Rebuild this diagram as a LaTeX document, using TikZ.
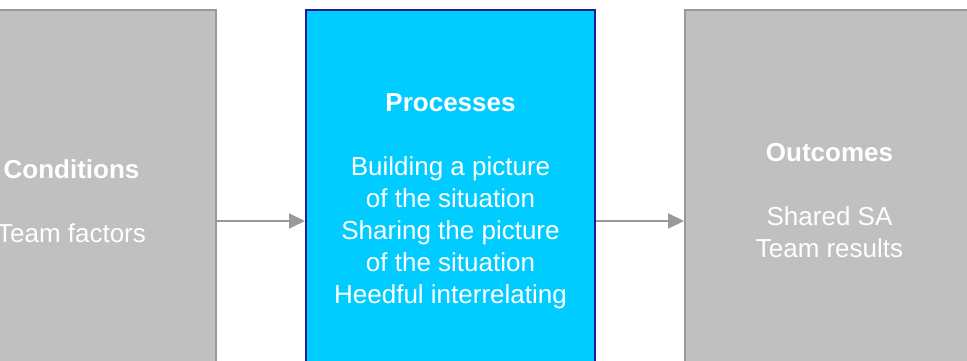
\documentclass[tikz,border=0pt]{standalone}
\usepackage{fontspec}
\setmainfont{Liberation Sans}
\usetikzlibrary{positioning, calc, arrows.meta}
\definecolor{boxgray}{HTML}{C0C0C0}
\definecolor{edgegray}{HTML}{999999}
\definecolor{procblue}{HTML}{00CCFF}
\definecolor{procedge}{HTML}{1F1A99}

\begin{document}
\begin{tikzpicture}[x=1pt, y=-1pt,
	                    stage/.style={draw=edgegray,
	                                  fill=boxgray,
	                                  line width=2pt,
	                                  minimum width=289pt,
	                                  minimum height=382pt,
	                                  inner sep=0pt,
	                                  align=center,
	                                  text=white,
	                                  font=\fontsize{26}{32}\selectfont},
	                    post/.style={-{Triangle[length=16pt,width=15pt]},
	                                 draw=edgegray,
	                                 line width=2pt}]
	\useasboundingbox (0,0) rectangle (967,361);
	\clip (0,0) rectangle (967,361);
	\node[stage] (Conditions) at (71.5,201) {\textbf{Conditions}\\[32pt]Team factors};
	\node[stage, fill=procblue, draw=procedge] (Processes) at (450.5,201) {\textbf{Processes}\\[32pt]Building a picture\\of the situation\\Sharing the picture\\of the situation\\Heedful interrelating};
	\node[stage] (Outcomes) at (829.5,201) {\textbf{Outcomes}\\[32pt]Shared SA\\Team results};

	\draw[post] ([yshift=-20pt]Conditions.east) -- ([yshift=-20pt]Processes.west);
	\draw[post] ([yshift=-20pt]Processes.east) -- ([yshift=-20pt]Outcomes.west);
\end{tikzpicture}
\end{document}
